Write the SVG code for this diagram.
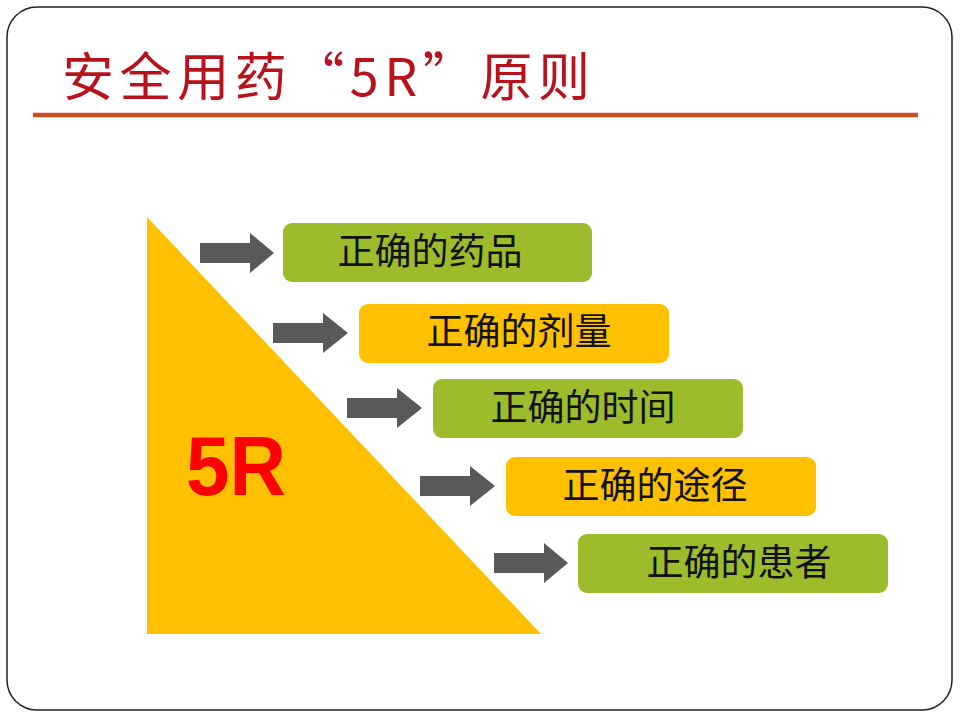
<svg xmlns="http://www.w3.org/2000/svg" width="960" height="720" viewBox="0 0 960 720">
  <style>
    .frame { fill: #ffffff; stroke: #222222; stroke-width: 1.5; }
    .title { font-family: "Noto Sans CJK SC", "Noto Sans CJK TC", sans-serif; font-size: 52px; fill: #B8121C; }
    .rule { stroke: #CC4F22; stroke-width: 4.5; }
    .tri { fill: #FFC000; }
    .big { font-family: "Liberation Sans", Arial, sans-serif; font-weight: bold; font-size: 84px; fill: #FF0000; }
    .green { fill: #9CBC2B; }
    .orange { fill: #FFC000; }
    .label { font-family: "Noto Sans CJK SC", "Noto Sans CJK TC", sans-serif; font-size: 37px; fill: #111111; text-anchor: middle; }
    .arrow { fill: #595959; }
  </style>
  <rect class="frame" x="7" y="7" width="945" height="703" rx="30" ry="30"/>
  <g id="title">
    <text class="title" x="62" y="96" textLength="528" lengthAdjust="spacing">安全用药“5R”原则</text>
    <line class="rule" x1="33" y1="115" x2="918" y2="115"/>
  </g>
  <g id="triangle">
    <polygon class="tri" points="147,217 147,634 541,634"/>
    <text class="big" x="186" y="495" textLength="100" lengthAdjust="spacingAndGlyphs">5R</text>
  </g>
  <g id="connectors">
    <polygon class="arrow" points="200,243 250,243 250,233 274,253 250,273 250,263 200,263"/>
    <polygon class="arrow" points="273,323 323,323 323,313 348,333 323,353 323,343 273,343"/>
    <polygon class="arrow" points="347,398 397,398 397,388 422,408 397,428 397,418 347,418"/>
    <polygon class="arrow" points="420,476 470,476 470,466 495,486 470,506 470,496 420,496"/>
    <polygon class="arrow" points="494,553 544,553 544,543 568,563 544,583 544,573 494,573"/>
  </g>
  <g id="node1">
    <rect class="green" x="283" y="223" width="309" height="59" rx="9"/>
    <text class="label" x="430" y="265">正确的药品</text>
  </g>
  <g id="node2">
    <rect class="orange" x="359" y="304" width="310" height="59" rx="9"/>
    <text class="label" x="519" y="345">正确的剂量</text>
  </g>
  <g id="node3">
    <rect class="green" x="433" y="379" width="310" height="59" rx="9"/>
    <text class="label" x="583" y="421">正确的时间</text>
  </g>
  <g id="node4">
    <rect class="orange" x="506" y="457" width="310" height="59" rx="9"/>
    <text class="label" x="655" y="499">正确的途径</text>
  </g>
  <g id="node5">
    <rect class="green" x="578" y="534" width="310" height="59" rx="9"/>
    <text class="label" x="739" y="576">正确的患者</text>
  </g>
</svg>
